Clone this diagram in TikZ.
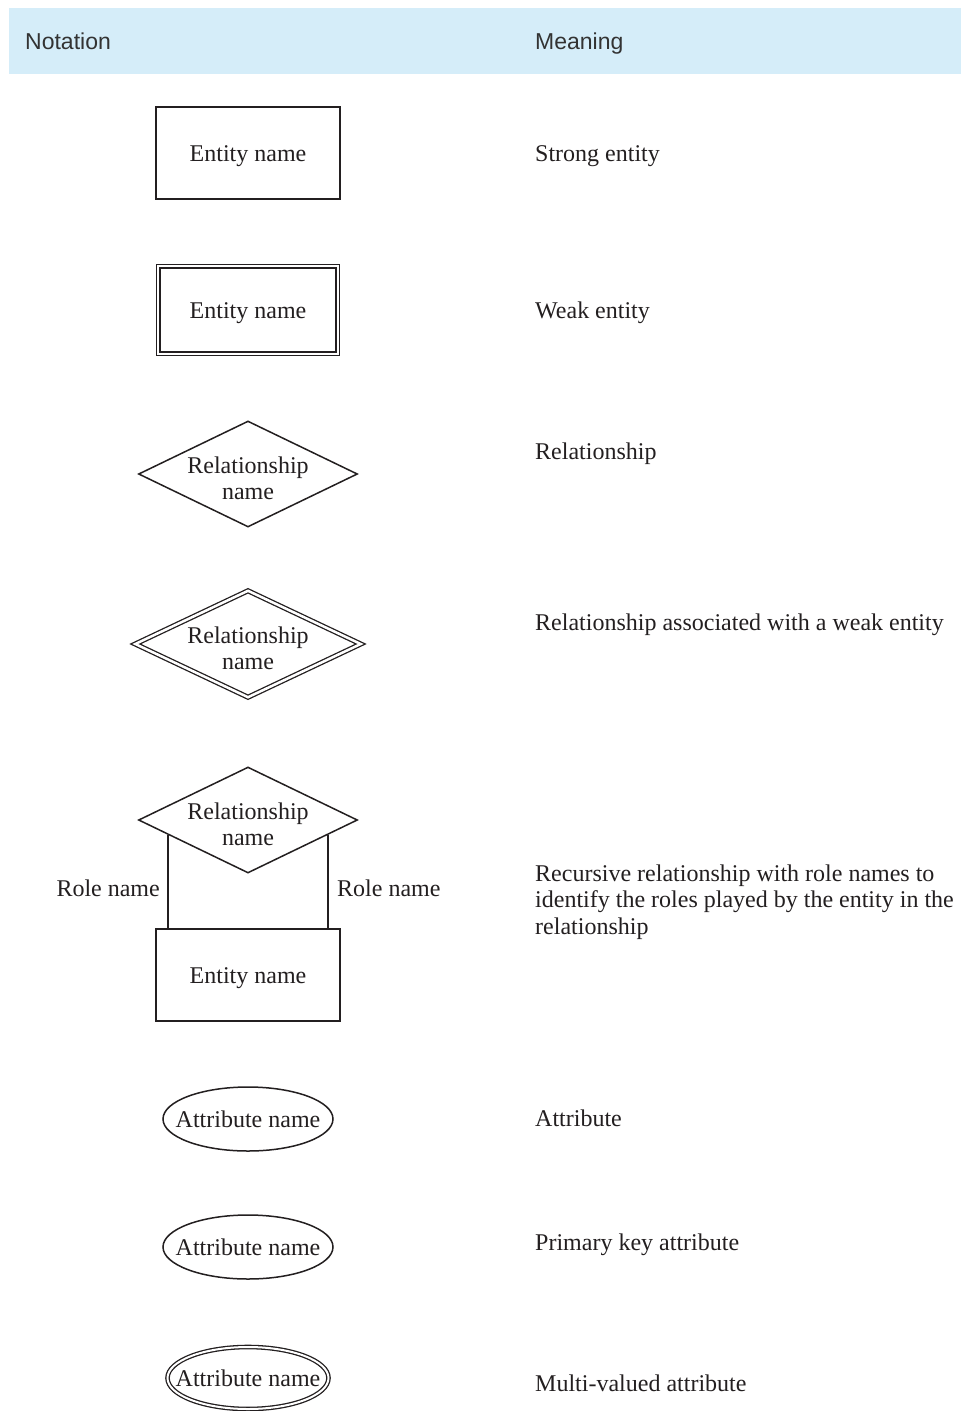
\documentclass[tikz,border=0pt]{standalone}
\usepackage{fontspec}
\setmainfont{Liberation Serif}
\newfontfamily\hdrfont{Liberation Sans}
\usetikzlibrary{shapes.geometric,calc}
\definecolor{hdrbg}{HTML}{D5EDF9}
\definecolor{ink}{HTML}{231F20}
\definecolor{hdrink}{HTML}{333333}
\tikzset{
  every node/.style={text=ink},
  txtbase/.style={inner sep=0pt, align=center, font=\fontsize{24}{26}\selectfont},
  txt/.style={txtbase, text height=16pt, text depth=0pt},
  meanbase/.style={inner sep=0pt, anchor=west, align=left, font=\fontsize{24}{26.5}\selectfont},
  mean/.style={meanbase, text height=16pt, text depth=0pt},
  hdr/.style={inner sep=0pt, anchor=west, text=hdrink, text height=16.5pt, text depth=0pt, font=\hdrfont\fontsize{23}{26}\selectfont},
  entity/.style={draw=ink, line width=1.5pt, rectangle, minimum width=184pt, minimum height=92pt, inner sep=0pt},
  weakentity/.style={draw=ink, line width=1.3pt, double=white, double distance=2pt, rectangle, minimum width=179.4pt, minimum height=87.4pt, inner sep=0pt},
  rel/.style={draw=ink, line width=1.5pt, diamond, minimum width=219pt, minimum height=106pt, inner sep=0pt},
  weakrel/.style={draw=ink, line width=1.3pt, double=white, double distance=2.5pt, diamond, minimum width=226pt, minimum height=107pt, inner sep=0pt},
  attr/.style={draw=ink, line width=1.5pt, ellipse, minimum width=170pt, minimum height=64pt, inner sep=0pt},
  multiattr/.style={draw=ink, line width=1.3pt, double=white, double distance=2pt, ellipse, minimum width=161pt, minimum height=62pt, inner sep=0pt},
  conn/.style={draw=ink, line width=1.5pt}
}
\begin{document}
\begin{tikzpicture}[x=1pt,y=-1pt]
\useasboundingbox (0,0) rectangle (961,1411);
\fill[white] (0,0) rectangle (961,1411);
\fill[hdrbg] (9,8) rectangle (961,74);
\node[hdr] (hn) at (25,41) {Notation};
\node[hdr] (hm) at (535,41) {Meaning};

% strong entity
\node[entity] (e1) at (248,153) {};
\node[txt] (e1t) at (e1) {Entity name};
\node[mean] (m1) at (535,153) {Strong entity};

% weak entity
\node[weakentity] (e2) at (248,310) {};
\node[txt] (e2t) at (e2) {Entity name};
\node[mean] (m2) at (535,310) {Weak entity};

% relationship
\node[rel] (r1) at (248,474) {};
\node[txtbase] (r1t) at (248,478) {Relationship\\name};
\node[mean] (m3) at (535,451) {Relationship};

% weak relationship
\node[weakrel] (r2) at (248,644) {};
\node[txtbase] (r2t) at (248,648) {Relationship\\name};
\node[mean] (m4) at (535,622) {Relationship associated with a weak entity};

% recursive relationship
\node[rel] (r3) at (248,820) {};
\node[txtbase] (r3t) at (248,824) {Relationship\\name};
\node[entity] (e3) at (248,975) {};
\node[txt] (e3t) at (e3) {Entity name};
\coordinate (cl) at ($(r3.west)!0.275!(r3.south)$);
\coordinate (cr) at ($(r3.east)!0.275!(r3.south)$);
\draw[conn] (cl) -- (cl |- e3.north);
\draw[conn] (cr) -- (cr |- e3.north);
\node[txt, anchor=east] (rl) at (160,888) {Role name};
\node[txt, anchor=west] (rr) at (337,888) {Role name};
\node[meanbase] (m5) at (535,902) {Recursive relationship with role names to\\identify the roles played by the entity in the\\relationship};

% attribute
\node[attr] (a1) at (248,1119) {};
\node[txt] (a1t) at (a1) {Attribute name};
\node[mean] (m6) at (535,1118) {Attribute};

% primary key attribute
\node[attr] (a2) at (248,1247) {};
\node[txt] (a2t) at (a2) {Attribute name};
\node[mean] (m7) at (535,1242) {Primary key attribute};

% multi-valued attribute
\node[multiattr] (a3) at (248,1378) {};
\node[txt] (a3t) at (248,1378) {Attribute name};
\node[mean] (m8) at (535,1383) {Multi-valued attribute};
\end{tikzpicture}
\end{document}
